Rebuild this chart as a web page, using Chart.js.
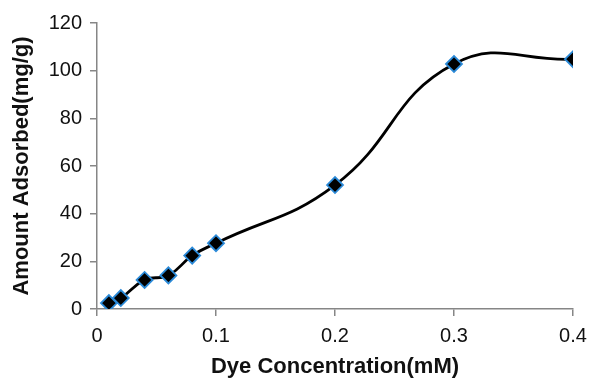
<!DOCTYPE html>
<html>
<head>
<meta charset="utf-8">
<script src="https://cdn.jsdelivr.net/npm/chart.js@4/dist/chart.umd.min.js"></script>
<style>
  html, body { margin: 0; padding: 0; background: #fff; }
  #wrap { width: 592px; height: 380px; position: relative; }
</style>
</head>
<body>
<div id="wrap"><canvas id="c" width="592" height="380"></canvas></div>
<script>
const concentration = [0.01, 0.02, 0.04, 0.06, 0.08, 0.1, 0.2, 0.3, 0.4];
const amountAdsorbed = [2.5, 4.6, 12.2, 14.1, 22.4, 27.6, 52.0, 102.8, 104.8];
const xTicks = [0, 0.1, 0.2, 0.3, 0.4];
const yTicks = [0, 20, 40, 60, 80, 100, 120];
const xTitle = "Dye Concentration(mM)";
const yTitle = "Amount Adsorbed(mg/g)";

const points = concentration.map((x, i) => ({ x: x, y: amountAdsorbed[i] }));
const axisColor = "#868686";
const font = "'Liberation Sans', Arial, sans-serif";

new Chart(document.getElementById("c"), {
  type: "line",
  data: {
    datasets: [{
      data: points,
      borderColor: "#000",
      borderWidth: 2.8,
      tension: 0.45,
      cubicInterpolationMode: "default",
      pointStyle: "rectRot",
      pointRadius: 8,
      pointBackgroundColor: "#000",
      pointBorderColor: "#2b8ad8",
      pointBorderWidth: 1.8,
      fill: false
    }]
  },
  options: {
    responsive: false,
    animation: false,
    events: [],
    layout: { padding: { top: 23, right: 19, left: 0, bottom: 0 } },
    plugins: { legend: { display: false }, tooltip: { enabled: false } },
    scales: {
      x: {
        type: "linear",
        min: 0, max: 0.4,
        afterBuildTicks: s => { s.ticks = xTicks.map(v => ({ value: v })); },
        afterFit: s => { s.height = 71; s.paddingRight = 0; s.paddingLeft = 0; },
        border: { color: axisColor, width: 1.5 },
        grid: { display: true, drawOnChartArea: false, drawTicks: true, tickLength: 7, color: axisColor, lineWidth: 1.5 },
        ticks: { color: "#111", font: { family: font, size: 20 }, padding: 8, callback: v => String(v) },
        title: { display: true, text: xTitle, color: "#111", font: { family: font, size: 22, weight: "bold" }, padding: { top: 10, bottom: 0 } }
      },
      y: {
        type: "linear",
        min: 0, max: 120,
        afterBuildTicks: s => { s.ticks = yTicks.map(v => ({ value: v })); },
        afterFit: s => { s.width = 97; s.paddingTop = 0; s.paddingBottom = 0; },
        border: { color: axisColor, width: 1.5 },
        grid: { display: true, drawOnChartArea: false, drawTicks: true, tickLength: 7, color: axisColor, lineWidth: 1.5 },
        ticks: { color: "#111", font: { family: font, size: 20 }, padding: 8 },
        title: { display: true, text: yTitle, color: "#111", font: { family: font, size: 22, weight: "bold" }, padding: { top: 9, bottom: 4 } }
      }
    }
  }
});
</script>
</body>
</html>
